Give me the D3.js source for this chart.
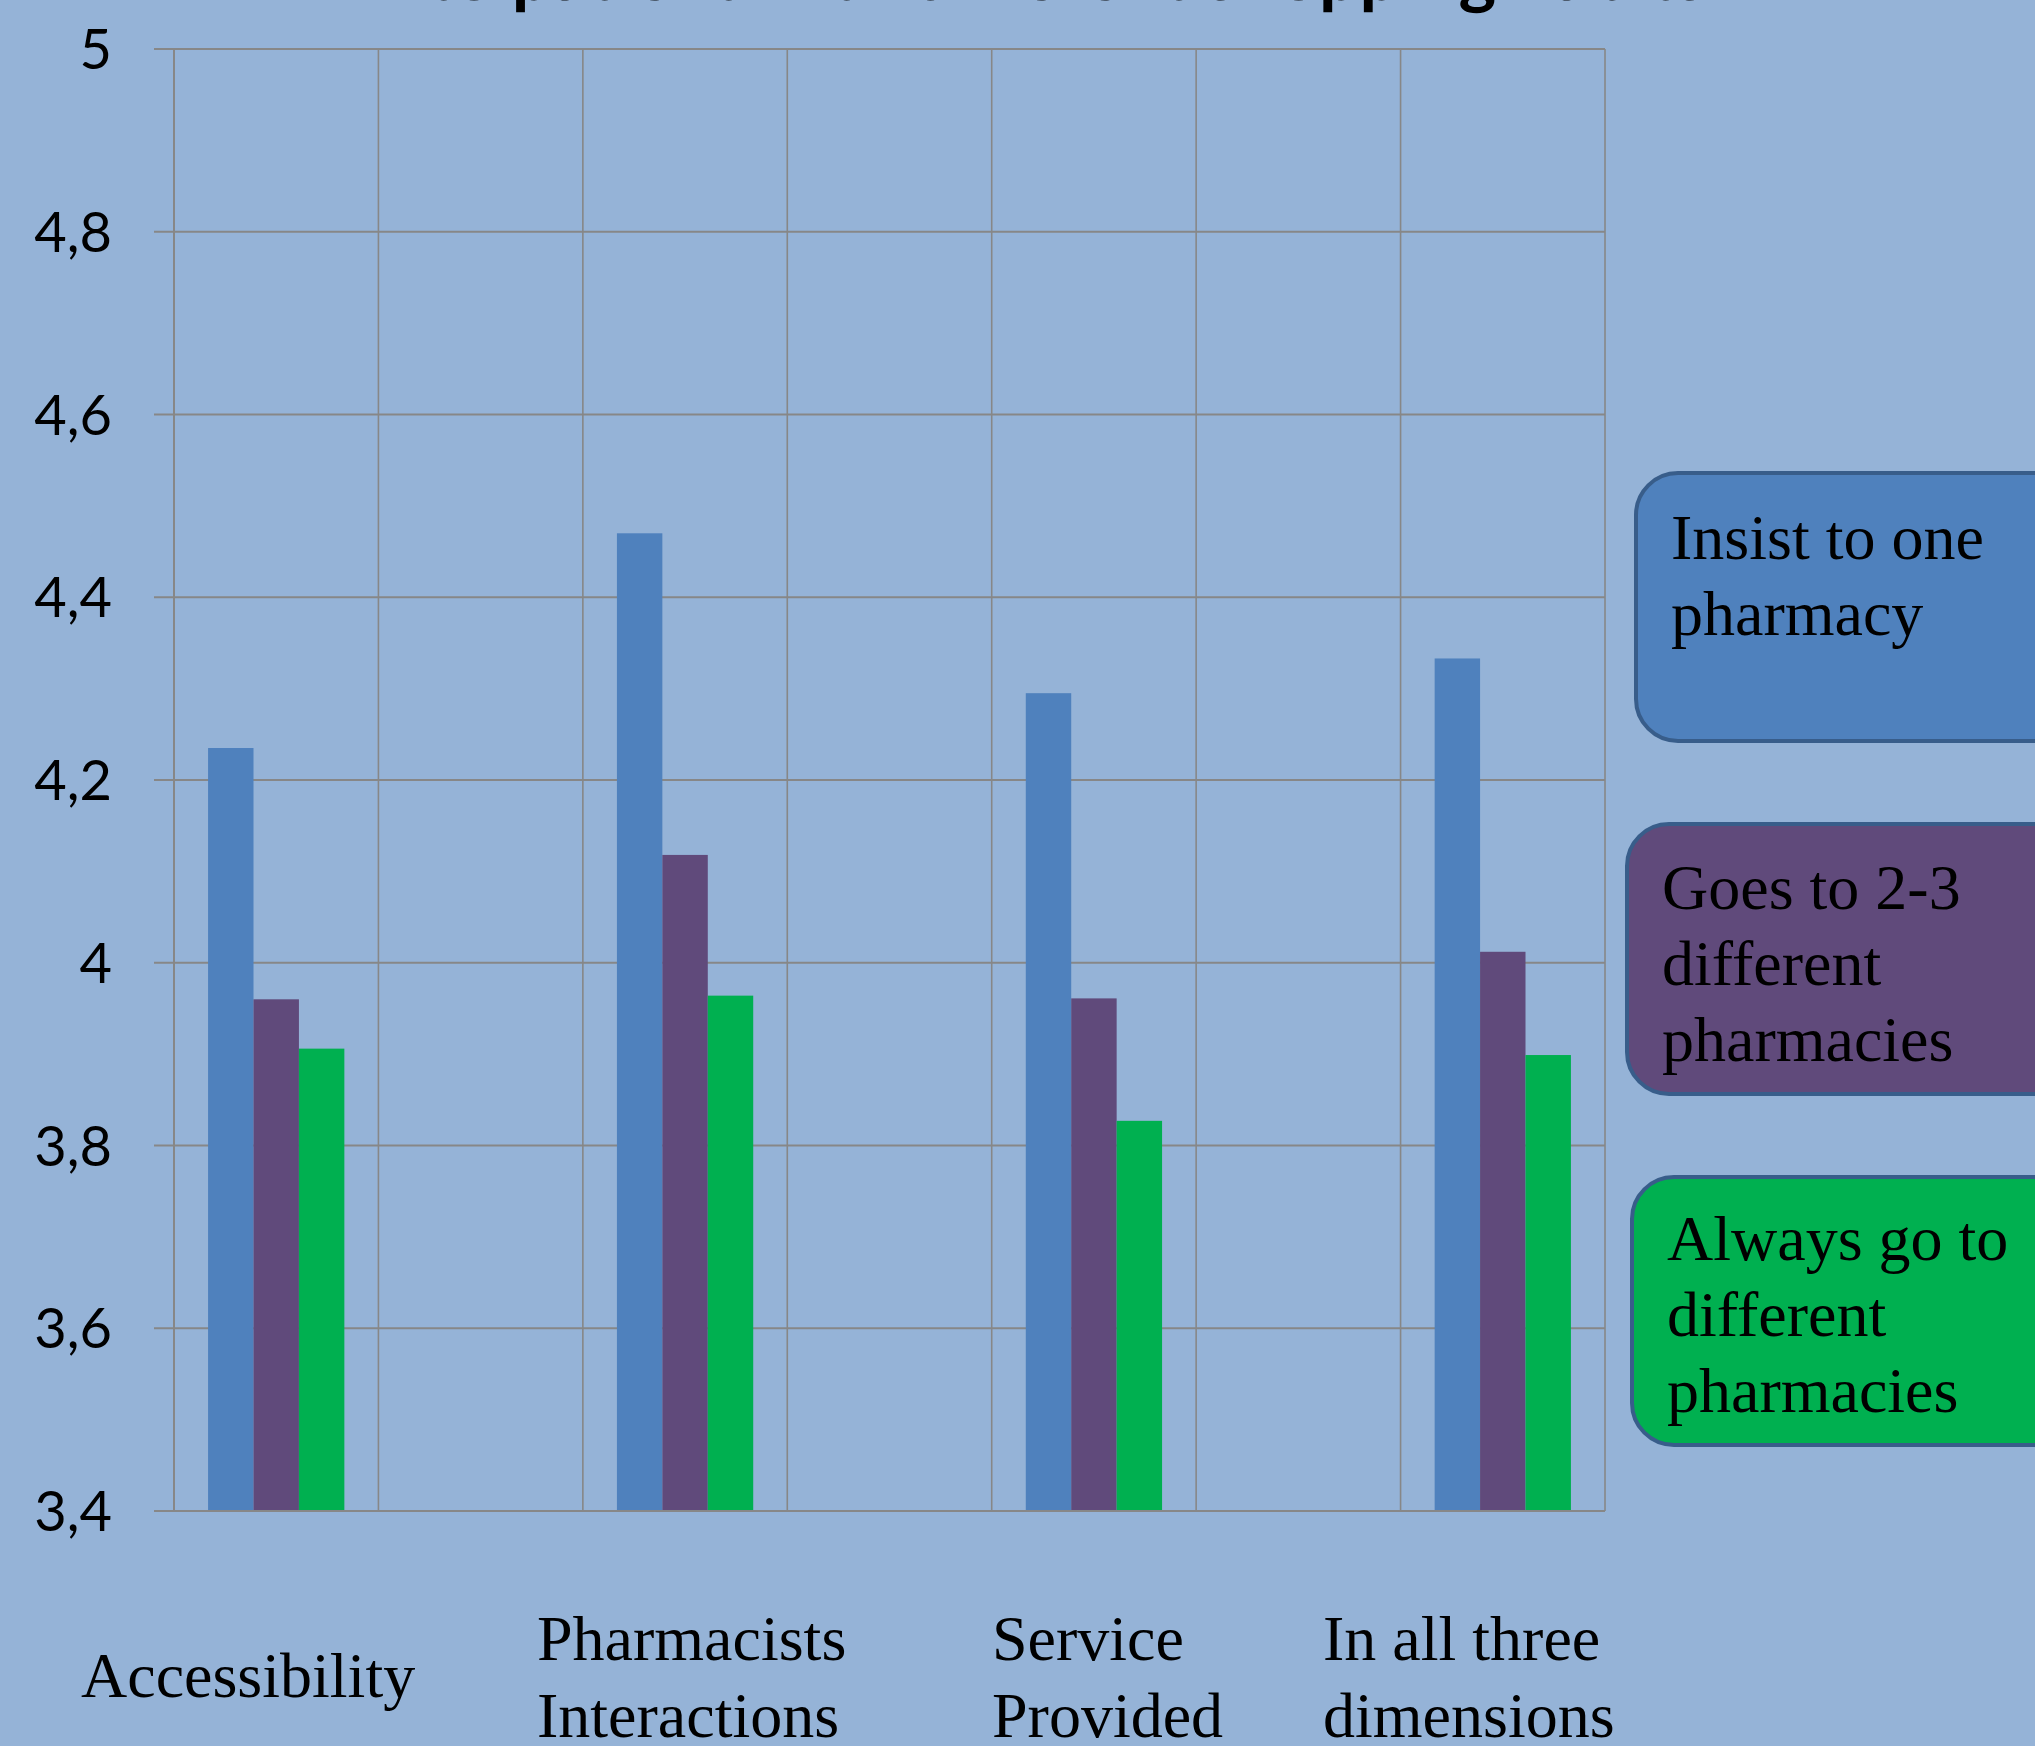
<!DOCTYPE html>
<html>
<head>
<meta charset="utf-8">
<script src="https://cdn.jsdelivr.net/npm/d3@7"></script>
<style>
  html, body { margin: 0; padding: 0; background: #95b3d7; overflow: hidden; }
</style>
</head>
<body>
<div id="chart"></div>
<script>
// DATA
const categories = ["Accessibility", "Pharmacists Interactions", "Service Provided", "In all three dimensions"];
const series = ["Insist to one pharmacy", "Goes to 2-3 different pharmacies", "Always go to different pharmacies"];
const insistOne = [4.235, 4.470, 4.295, 4.333];
const twoThree = [3.960, 4.118, 3.961, 4.012];
const alwaysDifferent = [3.906, 3.964, 3.827, 3.899];
const yTickValues = [3.4, 3.6, 3.8, 4.0, 4.2, 4.4, 4.6, 4.8, 5.0];
const titleLine = "to patient with different shopping habits";

// LAYOUT
const W = 2035, H = 1746;
const PLOT = { LEFT: 174, RIGHT: 1605, TOP: 49, BOTTOM: 1511 };
const COLORS = ["#4f81bd", "#604a7b", "#00b050"];
const GRID = "#878787";
const SLOTS = 7; // categories sit on every other slot, empty slots between

// x label boxes (left edge, baselines) and legend boxes
const LABEL_POS = [
  { x: 81, lines: [1697] },
  { x: 537, lines: [1660, 1737] },
  { x: 992, lines: [1660, 1737] },
  { x: 1323, lines: [1660, 1737] }
];
const LEGEND_POS = [
  { x: 1636, y: 473, h: 268, tx: 1671, lines: ["Insist to one", "pharmacy"], base: 559 },
  { x: 1627, y: 824, h: 270, tx: 1662, lines: ["Goes to 2-3", "different", "pharmacies"], base: 909 },
  { x: 1632, y: 1177, h: 268, tx: 1667, lines: ["Always go to", "different", "pharmacies"], base: 1260 }
];
const LINE_GAP = 76;

const values = [insistOne, twoThree, alwaysDifferent];
const rows = categories.map((c, i) => ({
  slot: i * 2,
  name: c,
  vals: series.map((s, j) => ({ key: s, idx: j, v: values[j][i] }))
}));

const svg = d3.select("#chart")
  .append("svg")
  .attr("width", W)
  .attr("height", H)
  .style("display", "block");

svg.append("rect").attr("width", W).attr("height", H).attr("fill", "#95b3d7");

// SCALES
const x = d3.scaleBand().domain(d3.range(SLOTS)).range([PLOT.LEFT, PLOT.RIGHT]).paddingInner(0).paddingOuter(0);
const xSub = d3.scaleBand().domain(d3.range(series.length)).range([0, x.bandwidth()]).paddingInner(0).paddingOuter(0.75);
const y = d3.scaleLinear().domain([3.4, 5]).range([PLOT.BOTTOM, PLOT.TOP]);

const locale = d3.formatLocale({ decimal: ",", thousands: ".", grouping: [3], currency: ["", ""] });
const fmt = locale.format(".1~f");

// GRID - horizontal
svg.append("g")
  .selectAll("line")
  .data(yTickValues)
  .join("line")
  .attr("x1", PLOT.LEFT - 20)
  .attr("x2", PLOT.RIGHT)
  .attr("y1", d => y(d))
  .attr("y2", d => y(d))
  .attr("stroke", GRID)
  .attr("stroke-width", 2);

// GRID - vertical (slot boundaries)
const xEdges = d3.range(SLOTS).map(s => x(s)).concat([PLOT.RIGHT]);
svg.append("g")
  .selectAll("line")
  .data(xEdges)
  .join("line")
  .attr("x1", d => d)
  .attr("x2", d => d)
  .attr("y1", PLOT.TOP)
  .attr("y2", PLOT.BOTTOM)
  .attr("stroke", GRID)
  .attr("stroke-width", 1.6);

// BARS
svg.append("g")
  .selectAll("g")
  .data(rows)
  .join("g")
  .attr("transform", d => `translate(${x(d.slot)},0)`)
  .selectAll("rect")
  .data(d => d.vals)
  .join("rect")
  .attr("x", d => xSub(d.idx))
  .attr("width", xSub.bandwidth())
  .attr("y", d => y(d.v))
  .attr("height", d => y(3.4) - y(d.v))
  .attr("fill", d => COLORS[d.idx]);

// axis lines on top
svg.append("line")
  .attr("x1", PLOT.LEFT).attr("x2", PLOT.LEFT)
  .attr("y1", PLOT.TOP).attr("y2", PLOT.BOTTOM)
  .attr("stroke", GRID).attr("stroke-width", 2);
svg.append("line")
  .attr("x1", PLOT.LEFT - 20).attr("x2", PLOT.RIGHT)
  .attr("y1", PLOT.BOTTOM).attr("y2", PLOT.BOTTOM)
  .attr("stroke", GRID).attr("stroke-width", 2);

// Y TICK LABELS
svg.append("g")
  .selectAll("text")
  .data(yTickValues)
  .join("text")
  .attr("x", 112)
  .attr("y", d => y(d))
  .attr("dy", "0.36em")
  .attr("text-anchor", "end")
  .attr("font-family", "Lato, 'Open Sans', sans-serif")
  .attr("font-size", 56)
  .attr("fill", "#000")
  .text(d => fmt(d));

// X LABELS
const serif = "'Liberation Serif', 'Times New Roman', serif";
const splitLabel = name => {
  if (name === "Accessibility") return [name];
  if (name === "In all three dimensions") return ["In all three", "dimensions"];
  const parts = name.split(" ");
  return [parts[0], parts.slice(1).join(" ")];
};
categories.forEach((c, i) => {
  const pos = LABEL_POS[i];
  const t = svg.append("text")
    .attr("font-family", serif)
    .attr("font-size", 64)
    .attr("fill", "#000");
  splitLabel(c).forEach((ln, k) => {
    t.append("tspan").attr("x", pos.x).attr("y", pos.lines[k]).text(ln);
  });
});

// LEGEND BOXES
LEGEND_POS.forEach((p, i) => {
  svg.append("rect")
    .attr("x", p.x)
    .attr("y", p.y)
    .attr("width", 480)
    .attr("height", p.h)
    .attr("rx", 42)
    .attr("ry", 42)
    .attr("fill", COLORS[i])
    .attr("stroke", "#385d8a")
    .attr("stroke-width", 4);
  const t = svg.append("text")
    .attr("font-family", serif)
    .attr("font-size", 64)
    .attr("fill", "#000");
  p.lines.forEach((ln, k) => {
    t.append("tspan").attr("x", p.tx).attr("y", p.base + k * LINE_GAP).text(ln);
  });
});

// TITLE (second line, mostly cut off at the top)
const title = svg.append("text")
  .attr("x", 1067)
  .attr("y", 0)
  .attr("text-anchor", "middle")
  .attr("font-family", "Lato, 'Open Sans', sans-serif")
  .attr("font-weight", "bold")
  .attr("font-size", 64)
  .attr("fill", "#000")
  .text(titleLine);
const tl = title.node().getComputedTextLength();
title.attr("font-size", 64 * 1280 / tl);
</script>
</body>
</html>
